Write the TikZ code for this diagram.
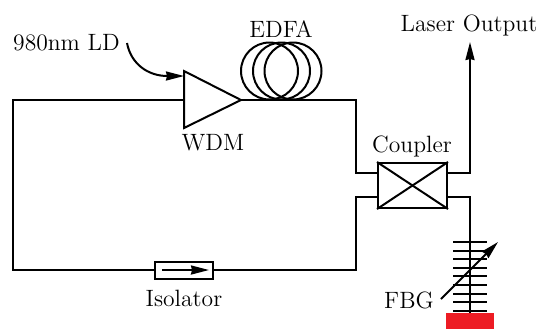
\documentclass[tikz,border=0pt]{standalone}
\usetikzlibrary{arrows.meta}
\tikzset{
  fiber/.style={line width=1pt},
  thintip/.style={-{Stealth[length=9pt,width=4.5pt,inset=0.5pt]}},
  device/.style={draw,line width=1pt,inner sep=0pt,fill=white},
  caption/.style={inner sep=0.75pt,font=\fontsize{11.8}{14}\selectfont},
}
\begin{document}
\begin{tikzpicture}[x=0.5pt,y=0.5pt,yscale=-1]
\useasboundingbox (0,0) rectangle (539,329);

% Corners of the ring
\coordinate (tl) at (13,100);
\coordinate (bl) at (13,270);
\coordinate (tr) at (356,100);
\coordinate (br) at (356,270);
\coordinate (wdmIn) at (184,100);
\coordinate (wdmTop) at (184,71);
\coordinate (wdmBot) at (184,128);
\coordinate (wdmOut) at (241,100);
\coordinate (pump) at (184,76);

% Devices
\node [device,minimum width=34.5pt,minimum height=22.5pt] (coupler) at (412.5,185.5) {};
\node [device,minimum width=29pt,minimum height=8.5pt] (isolator) at (184,270) {};
\coordinate (c1) at (378,173);
\coordinate (c2) at (378,197);
\coordinate (c3) at (447,173);
\coordinate (c4) at (447,197);
\coordinate (out) at (470,42);
\coordinate (fbgEnd) at (470,313);

%Straight Lines
\draw [fiber] (wdmIn) -- (tl) -- (bl) -- (isolator);
\draw [fiber] (isolator) -- (br) -- (356,197) -- (c2);
\draw [fiber] (wdmOut) -- (tr) -- (356,173) -- (c1);
\draw [fiber,thintip] (c3) -- (470,173) -- (out);
\draw [fiber] (c4) -- (470,197) -- (fbgEnd);

%Triangle
\draw [fiber,line join=miter] (wdmTop) -- (wdmOut) -- (wdmBot) -- cycle;

%Coils
\draw [fiber] (269.5,71) circle (28.5);
\draw [fiber] (281.5,71) circle (28.5);
\draw [fiber] (293,71) circle (28.5);

%Cross in the coupler
\draw [fiber] (coupler.north west) -- (coupler.south east);
\draw [fiber] (coupler.south west) -- (coupler.north east);

%Isolator arrow
\coordinate (isoA) at (162,270);
\coordinate (isoB) at (209,270);
\draw [fiber,thintip] (isoA) -- (isoB);

%Curve Lines
\coordinate (ldEnd) at (127,43);
\draw [fiber,thintip] (ldEnd) .. controls (131,64) and (148,76) .. (pump);

%Grating
\foreach \y in {242,250.6,...,312} {
  \draw [fiber] (453,\y) -- (487,\y);
}
\fill [color={rgb,255:red,237;green,28;blue,36}] (446,313) rectangle (494,329);

\coordinate (tuneA) at (441,299);
\coordinate (tuneB) at (498,242);
\draw [fiber,thintip] (tuneA) -- (tuneB);

% Text Node
\node [caption] (ldlabel) at (66.5,43) {980nm LD};
\node [caption] (edfalabel) at (281,29) {EDFA};
\node [caption] (wdmlabel) at (213,143) {WDM};
\node [caption] (couplerlabel) at (412,146) {Coupler};
\node [caption] (outlabel) at (469,25) {Laser Output};
\node [caption] (isolabel) at (184,298) {Isolator};
\node [caption] (fbglabel) at (409,300) {FBG};

\end{tikzpicture}
\end{document}
